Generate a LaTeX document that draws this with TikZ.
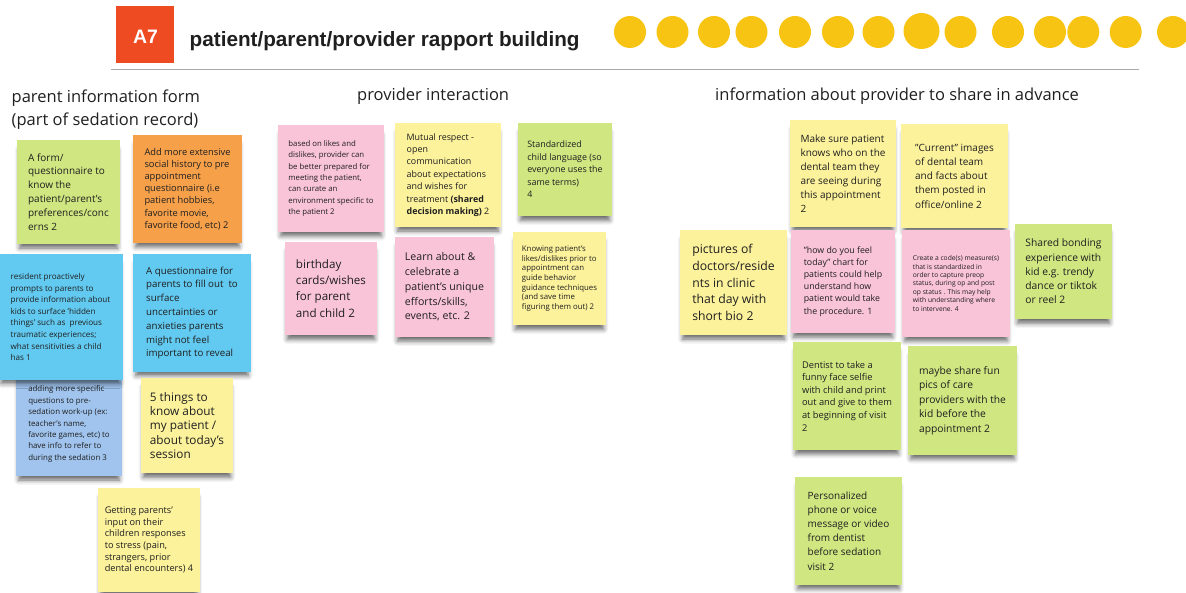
\documentclass[tikz,border=0pt]{standalone}
\usepackage{fontspec}
\setmainfont{Open Sans}
\newfontfamily\arialfont{Liberation Sans}
\usetikzlibrary{shadows.blur}

\definecolor{ink}{HTML}{1F1F1F}
\definecolor{pgreen}{HTML}{CFE681}
\definecolor{porange}{HTML}{F6A04A}
\definecolor{pcyan}{HTML}{62C9F0}
\definecolor{pblue}{HTML}{A0C4EE}
\definecolor{pyellow}{HTML}{FCF29C}
\definecolor{ppink}{HTML}{F9C3D8}
\definecolor{tagred}{HTML}{EE4B23}
\definecolor{dotyellow}{HTML}{F7C414}
\definecolor{rulegray}{HTML}{A8A8A8}

\begin{document}
\begin{tikzpicture}[x=1pt,y=-1pt,line join=round,
  note/.style={fill=#1,text=ink,align=left,inner sep=0pt,
    blur shadow={shadow xshift=0pt,shadow yshift=-7pt,shadow blur radius=5pt,shadow opacity=60,shadow scale=.95}},
  wh/.style 2 args={minimum width=#1pt,minimum height=#2pt},
  fs/.style 2 args={font=\fontsize{#1}{#2}\selectfont},
  heading/.style={anchor=base west,inner sep=0pt,text=ink,font=\fontsize{16.5}{24}\selectfont}]
  \useasboundingbox (0,0) rectangle (1186,593);

  % title bar
  \fill[tagred] (116,6.5) rectangle (174,63.5);
  \node[anchor=base,inner sep=0pt,text=white,font=\arialfont\fontsize{19.5}{20}\selectfont\bfseries] (tag) at (145.5,43.3) {A7};
  \node[anchor=base west,inner sep=0pt,text=ink,font=\arialfont\fontsize{20.7}{22}\selectfont\bfseries] (title) at (189.5,46.5) {patient/parent/provider rapport building};
  \draw[rulegray,line width=1.8pt] (111,69.5) -- (1139,69.5);
  \foreach \x in {630,672.5,714,751.5,795,838,878.5,960.5,1008,1050,1083.3,1125.7,1173}
    \fill[dotyellow] (\x,32) circle (16);
  \fill[dotyellow] (921.5,31) circle (18);

  % column headings
  \node[heading] (formhead) at (11.5,103) {parent information form};
  \node[heading] (formsub) at (11.5,126) {(part of sedation record)};
  \node[heading] (provhead) at (357,101) {provider interaction};
  \node[heading] (infohead) at (715,101) {information about provider to share in advance};

  % parent information form
  \node[note=pgreen,wh={103}{104},fs={10}{13.9}] (form) at (68.5,192) {A form/\\questionnaire to\\know the\\patient/parent's\\preferences/conc\\erns 2};
  \node[note=porange,wh={109}{108},fs={9.3}{12.2}] (social) at (187.5,189) {Add more extensive\\social history to pre\\appointment\\questionnaire (i.e\\patient hobbies,\\favorite movie,\\favorite food, etc) 2};
  \node[note=pblue,wh={106}{104},fs={7.9}{11.4}] (workup) at (69,424) {adding more specific\\questions to pre-\\sedation work-up (ex:\\teacher's name,\\favorite games, etc) to\\have info to refer to\\during the sedation 3};
  \node[note=pcyan,wh={125}{126},fs={8.1}{11.6}] (resident) at (60.5,317) {resident proactively\\prompts to parents to\\provide information about\\kids to surface 'hidden\\things' such as\ \ previous\\traumatic experiences;\\what sensitivities a child\\has 1};
  \node[note=pcyan,wh={118}{118},fs={9.7}{13.8}] (anxiety) at (192,313) {A questionnaire for\\parents to fill out\ \ to\\surface\\uncertainties or\\anxieties parents\\might not feel\\important to reveal};
  \node[note=pyellow,wh={92}{95},fs={11.8}{14.3}] (things) at (187,425.5) {5 things to\\know about\\my patient /\\about today's\\session};
  \node[note=pyellow,wh={102}{104},fs={9.2}{11.6}] (stress) at (149,540) {Getting parents'\\input on their\\children responses\\to stress (pain,\\strangers, prior\\dental encounters) 4};

  % provider interaction
  \node[note=ppink,wh={106}{107},fs={7.8}{11.4}] (prepared) at (331,178.5) {based on likes and\\dislikes, provider can\\be better prepared for\\meeting the patient,\\can curate an\\environment specific to\\the patient 2};
  \node[note=pyellow,wh={106}{104},fs={8.9}{12.4}] (respect) at (448,175) {Mutual respect -\\open\\communication\\about expectations\\and wishes for\\treatment \textbf{(shared}\\\textbf{decision making)} 2};
  \node[note=pgreen,wh={94}{93},fs={8.9}{12.5}] (language) at (565,169.5) {Standardized\\child language (so\\everyone uses the\\same terms)\\4};
  \node[note=ppink,wh={92}{93},fs={11.6}{16.3}] (birthday) at (331,288.5) {birthday\\cards/wishes\\for parent\\and child 2};
  \node[note=ppink,wh={99}{100},fs={10.6}{14.8}] (celebrate) at (444.5,287) {Learn about \&\\celebrate a\\patient's unique\\efforts/skills,\\events, etc. 2};
  \node[note=pyellow,wh={93}{93},fs={7.8}{9.6}] (likes) at (559.5,278.5) {Knowing patient's\\likes/dislikes prior to\\appointment can\\guide behavior\\guidance techniques\\(and save time\\figuring them out) 2};

  % information about provider
  \node[note=pyellow,wh={106}{107},fs={10}{14.1}] (team) at (843,173.5) {Make sure patient\\knows who on the\\dental team they\\are seeing during\\this appointment\\2};
  \node[note=pyellow,wh={107}{104},fs={10}{14.2}] (images) at (954.5,176) {"Current" images\\of dental team\\and facts about\\them posted in\\office/online 2};
  \node[note=pyellow,wh={107}{105},fs={12.2}{16.7}] (bios) at (733.5,282.5) {pictures of\\doctors/reside\\nts in clinic\\that day with\\short bio 2};
  \node[note=ppink,wh={104}{103},fs={8.8}{12.1}] (feel) at (843,281.5) {"how do you feel\\today" chart for\\patients could help\\understand how\\patient would take\\the procedure. 1};
  \node[note=ppink,wh={108}{107},fs={6.7}{8.4}] (code) at (956,283.5) {Create a code(s) measure(s)\\that is standardized in\\order to capture preop\\status, during op and post\\op status . This may help\\with understanding where\\to intervene. 4};
  \node[note=pgreen,wh={97}{95},fs={10.3}{14.3}] (bonding) at (1063.5,271.5) {Shared bonding\\experience with\\kid e.g. trendy\\dance or tiktok\\or reel 2};
  \node[note=pgreen,wh={108}{108},fs={9.3}{12.6}] (selfie) at (847,396) {Dentist to take a\\funny face selfie\\with child and print\\out and give to them\\at beginning of visit\\2};
  \node[note=pgreen,wh={109}{109},fs={10.3}{14.6}] (pics) at (962.5,400.5) {maybe share fun\\pics of care\\providers with the\\kid before the\\appointment 2};
  \node[note=pgreen,wh={107}{108},fs={10}{14.1}] (message) at (848.5,531) {Personalized\\phone or voice\\message or video\\from dentist\\before sedation\\visit 2};
\end{tikzpicture}
\end{document}
